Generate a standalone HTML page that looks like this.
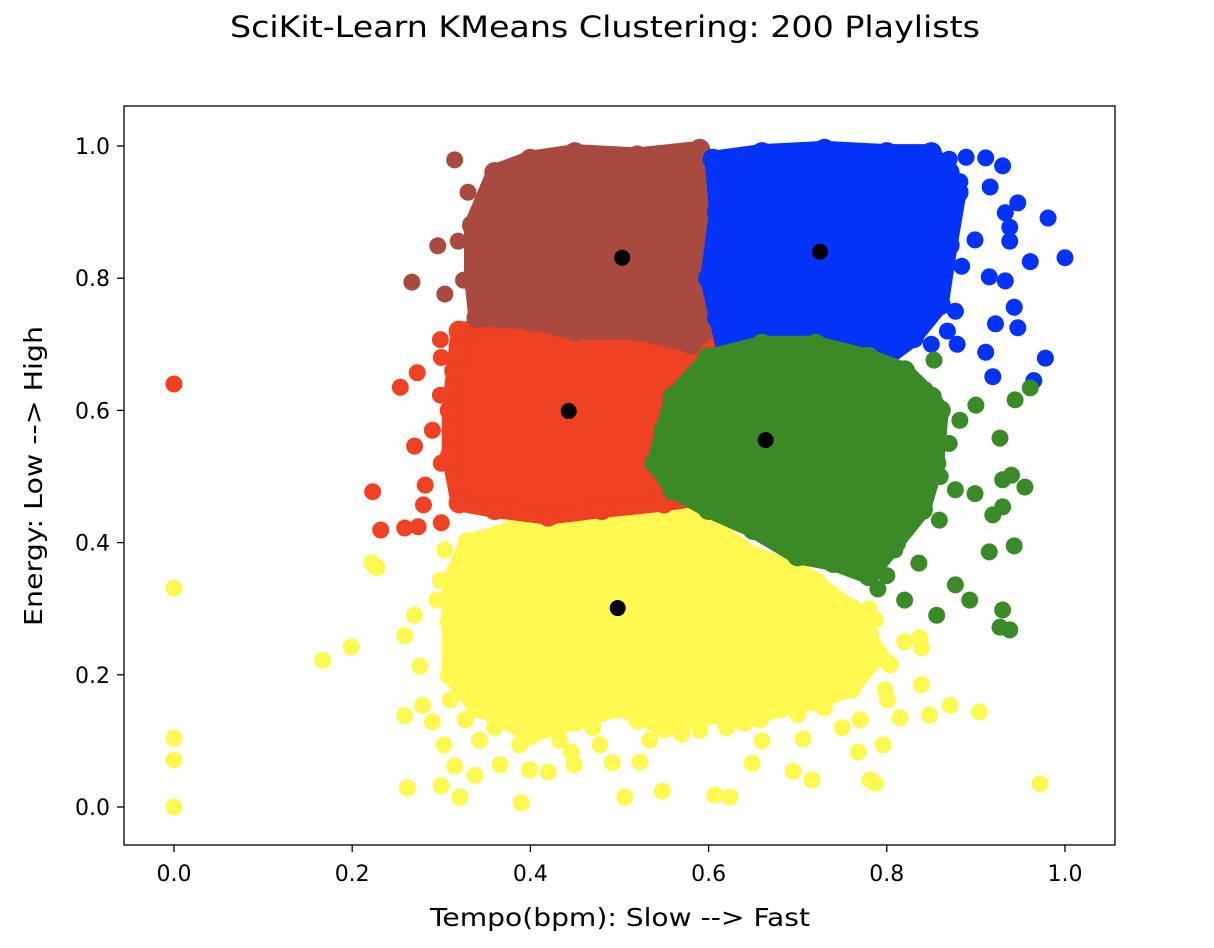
<!DOCTYPE html>
<html><head><meta charset="utf-8">
<style>
body{margin:0;background:#fff;}
svg{display:block;font-family:"DejaVu Sans","Liberation Sans",sans-serif;}
</style></head>
<body>
<svg id="chart" width="1214" height="948" viewBox="0 0 1214 948" xmlns="http://www.w3.org/2000/svg">
<text x="605" y="37" font-size="29" textLength="750" lengthAdjust="spacingAndGlyphs" text-anchor="middle">SciKit-Learn KMeans Clustering: 200 Playlists</text>
<g id="plot"></g>
<rect x="124" y="106" width="991" height="739" fill="none" stroke="#000" stroke-width="1.3"/>
<g id="axes"></g>
<text x="620" y="926" font-size="25" textLength="380" lengthAdjust="spacingAndGlyphs" text-anchor="middle">Tempo(bpm): Slow --&gt; Fast</text>
<text transform="translate(42,476) rotate(-90)" font-size="25" textLength="300" lengthAdjust="spacingAndGlyphs" text-anchor="middle">Energy: Low --&gt; High</text>
</svg>
<script>
const xTicks=[0,0.2,0.4,0.6,0.8,1.0];
const yTicks=[0,0.2,0.4,0.6,0.8,1.0];
const clusterNames=["yellow","red","brown","blue","green"];
const clusterColors=["#fef850","#ef4123","#a94a41","#0433f8","#3a8a27"];
const yellowCore=[[.33,.40],[.38,.42],[.45,.43],[.52,.45],[.55,.46],[.60,.43],[.65,.38],[.70,.36],[.72,.34],[.76,.30],[.78,.26],[.79,.23],[.76,.18],[.72,.16],[.68,.15],[.64,.13],[.60,.14],[.55,.12],[.50,.15],[.45,.13],[.40,.11],[.36,.14],[.34,.15],[.31,.20],[.31,.28],[.31,.34]];
const redCore=[[.32,.72],[.36,.73],[.40,.74],[.48,.725],[.55,.73],[.62,.71],[.65,.70],[.67,.60],[.66,.55],[.64,.50],[.60,.47],[.55,.46],[.48,.45],[.42,.44],[.36,.45],[.32,.46],[.31,.53],[.31,.60],[.315,.66]];
const brownCore=[[.36,.96],[.40,.98],[.45,.99],[.52,.985],[.59,.995],[.61,.96],[.615,.85],[.615,.74],[.58,.70],[.52,.72],[.45,.72],[.40,.735],[.34,.74],[.335,.80],[.335,.88]];
const blueCore=[[.605,.98],[.66,.99],[.73,.995],[.80,.99],[.85,.99],[.87,.96],[.88,.93],[.87,.85],[.86,.76],[.83,.71],[.80,.68],[.75,.67],[.70,.66],[.62,.68],[.61,.74],[.60,.80],[.61,.90]];
const greenCore=[[.60,.68],[.66,.70],[.72,.70],[.78,.68],[.82,.66],[.85,.62],[.86,.60],[.855,.52],[.84,.45],[.81,.40],[.78,.35],[.74,.37],[.70,.38],[.65,.42],[.60,.45],[.56,.48],[.54,.52],[.55,.57],[.56,.62]];
const yellowPts=[[0,.331],[0,.104],[0,.071],[0,0],[.167,.222],[.199,.242],[.222,.369],[.228,.362],[.259,.259],[.259,.138],[.262,.029],[.27,.290],[.276,.213],[.279,.154],[.29,.129],[.295,.313],[.3,.032],[.321,.015],[.303,.094],[.315,.062],[.338,.048],[.366,.064],[.39,.006],[.399,.056],[.42,.053],[.446,.083],[.449,.064],[.492,.067],[.506,.015],[.523,.068],[.548,.024],[.607,.018],[.624,.015],[.649,.066],[.695,.054],[.716,.041],[.706,.103],[.770,.132],[.781,.041],[.787,.036],[.796,.094],[.815,.135],[.848,.139],[.871,.154],[.904,.144],[.972,.035],[.837,.256],[.839,.241],[.839,.185],[.801,.162],[.759,.193],[.768,.083],[.68,.177],[.658,.132],[.59,.116],[.534,.101],[.478,.094],[.433,.101],[.388,.094],[.343,.101],[.327,.132],[.31,.162],[.734,.306],[.753,.306],[.757,.253],[.787,.283],[.804,.215],[.798,.177],[.299,.343],[.304,.389],[.31,.25],[.32,.30],[.36,.12],[.42,.12],[.47,.12],[.52,.13],[.57,.11],[.62,.12],[.66,.10],[.70,.14],[.73,.15],[.75,.12],[.80,.22],[.82,.25],[.78,.30],[.32,.37]];
const redPts=[[0,.64],[.223,.477],[.232,.419],[.259,.422],[.274,.424],[.254,.635],[.273,.657],[.27,.546],[.282,.487],[.28,.457],[.299,.707],[.29,.57],[.299,.623],[.30,.68],[.30,.52],[.30,.43]];
const brownPts=[[.267,.794],[.296,.849],[.304,.776],[.319,.856],[.315,.979],[.325,.797],[.33,.93]];
const bluePts=[[1.0,.831],[.981,.891],[.961,.825],[.978,.679],[.965,.645],[.938,.877],[.930,.970],[.947,.914],[.911,.982],[.889,.983],[.938,.856],[.915,.802],[.943,.756],[.947,.725],[.922,.731],[.933,.796],[.911,.688],[.919,.651],[.882,.946],[.877,.750],[.868,.720],[.884,.818],[.899,.858],[.879,.700],[.933,.899],[.916,.938],[.87,.98],[.85,.70]];
const greenPts=[[.955,.484],[.943,.395],[.930,.298],[.938,.268],[.927,.272],[.915,.386],[.930,.495],[.927,.558],[.93,.454],[.919,.442],[.893,.313],[.877,.336],[.856,.290],[.836,.369],[.859,.434],[.877,.480],[.899,.474],[.882,.585],[.9,.608],[.944,.616],[.961,.634],[.94,.502],[.82,.313],[.853,.676],[.843,.631],[.809,.389],[.87,.55],[.86,.50],[.80,.35],[.79,.33]];
const centroidX=[.498,.443,.503,.725,.664];
const centroidY=[.301,.599,.831,.840,.555];

const NS="http://www.w3.org/2000/svg";
const X=v=>174+v*891, Y=v=>807-v*661;
const R=8.5;
const plot=document.getElementById('plot'), axes=document.getElementById('axes');
const cores=[yellowCore,redCore,brownCore,blueCore,greenCore];
const pts=[yellowPts,redPts,brownPts,bluePts,greenPts];
cores.forEach((core,i)=>{
  const g=document.createElementNS(NS,'g');
  
  
  const p=document.createElementNS(NS,'polygon');
  
  
  p.setAttribute('points',core.map(d=>X(d[0])+','+Y(d[1])).join(' '));
  p.setAttribute('fill',clusterColors[i]);p.setAttribute('stroke',clusterColors[i]);
  p.setAttribute('stroke-width',2*R);p.setAttribute('stroke-linejoin','round');
  g.appendChild(p);
  core.forEach(d=>{
    const c=document.createElementNS(NS,'circle');
    
    
    c.setAttribute('cx',X(d[0]));c.setAttribute('cy',Y(d[1]));c.setAttribute('r',R+2);
    c.setAttribute('fill',clusterColors[i]);g.appendChild(c);
  });
  pts[i].forEach(d=>{
    const c=document.createElementNS(NS,'circle');
    
    
    c.setAttribute('cx',X(d[0]));c.setAttribute('cy',Y(d[1]));c.setAttribute('r',R);
    c.setAttribute('fill',clusterColors[i]);g.appendChild(c);
  });
  plot.appendChild(g);
});
centroidX.forEach((v,i)=>{
  const c=document.createElementNS(NS,'circle');
  
  
  c.setAttribute('cx',X(v));c.setAttribute('cy',Y(centroidY[i]));c.setAttribute('r',8);
  c.setAttribute('fill','#000');plot.appendChild(c);
});
xTicks.forEach(v=>{
  const l=document.createElementNS(NS,'line');
  
  
  l.setAttribute('x1',X(v));l.setAttribute('x2',X(v));l.setAttribute('y1',845);l.setAttribute('y2',852);l.setAttribute('stroke','#000');l.setAttribute('stroke-width','1.3');
  axes.appendChild(l);
  const t=document.createElementNS(NS,'text');
  
  
  t.setAttribute('x',X(v));t.setAttribute('y',881);t.setAttribute('font-size','22');t.setAttribute('text-anchor','middle');
  t.textContent=v.toFixed(1);axes.appendChild(t);
});
yTicks.forEach(v=>{
  const l=document.createElementNS(NS,'line');
  
  
  l.setAttribute('x1',117);l.setAttribute('x2',124);l.setAttribute('y1',Y(v));l.setAttribute('y2',Y(v));l.setAttribute('stroke','#000');l.setAttribute('stroke-width','1.3');
  axes.appendChild(l);
  const t=document.createElementNS(NS,'text');
  
  
  t.setAttribute('x',110);t.setAttribute('y',Y(v)+8);t.setAttribute('font-size','22');t.setAttribute('text-anchor','end');
  t.textContent=v.toFixed(1);axes.appendChild(t);
});
</script>
</body></html>
